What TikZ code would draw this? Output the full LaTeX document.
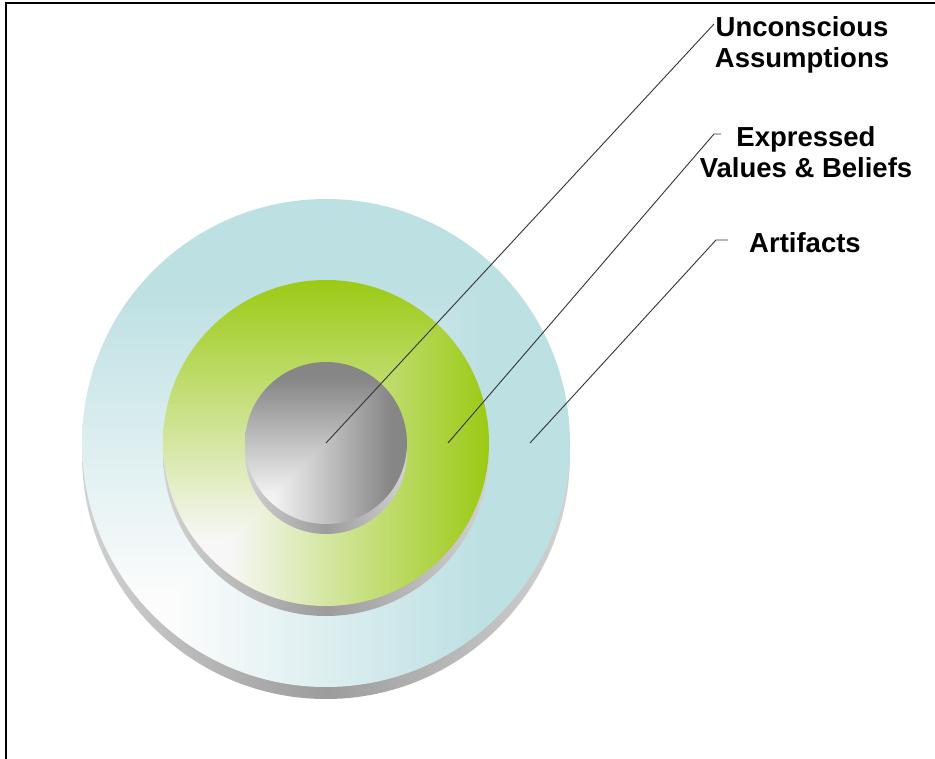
\documentclass[tikz,border=0pt]{standalone}
\usepackage{fontspec}
\setmainfont{Liberation Sans}
\usetikzlibrary{positioning}

\definecolor{rimlight}{RGB}{210,210,210}
\definecolor{rimdark}{RGB}{156,156,156}

% corner gradient: pale at lower left, full colour towards top and right
\newcommand\cornershading[7]{%
  \pgfdeclarefunctionalshading{#1}{\pgfpoint{0bp}{0bp}}{\pgfpoint{100bp}{100bp}}{}{%
    2 copy lt {exch} if pop #6 sub #7 div
    dup 0 lt {pop 0} if dup 1 gt {pop 1} if
    dup #3 mul #2 exch sub exch
    dup #4 mul #2 exch sub exch
    #5 mul #2 exch sub}}
\cornershading{artifactshade}{0.99}{0.249}{0.112}{0.100}{34}{32}
\cornershading{valueshade}{0.97}{0.362}{0.178}{0.892}{35}{40}
\cornershading{coreshade}{0.95}{0.425}{0.425}{0.425}{34}{36}

\begin{document}
\begin{tikzpicture}[
    x=1pt, y=-1pt,
    tag/.style={
      font=\bfseries\fontsize{27.5}{31}\selectfont,
      align=center, inner sep=0pt
    },
    leader/.style={draw=black!80, line width=0.9pt},
    rim/.style={left color=rimlight, right color=rimlight, middle color=rimdark},
    frame/.style={line width=2pt}
  ]
  \useasboundingbox (0,0) rectangle (935,759);

  % ===== Frame =====
  \draw[frame] (5.5,759) -- (5.5,3.5) -- (935,3.5);

  % ===== Discs =====
  \coordinate (ctr) at (326,443);
  \shade[rim] ([yshift=-12pt]ctr) circle[radius=244];
  \shade[shading=artifactshade] (ctr) circle[radius=244];
  \shade[rim] ([yshift=-10pt]ctr) circle[radius=163];
  \shade[shading=valueshade] (ctr) circle[radius=163];
  \shade[rim] ([yshift=-10pt]ctr) circle[radius=81];
  \shade[shading=coreshade] (ctr) circle[radius=81];

  % ===== Labels =====
  \node[tag] (unconscious) at (802,45)  {Unconscious\\Assumptions};
  \node[tag] (expressed)   at (806,152) {Expressed\\Values \& Beliefs};
  \node[tag] (artifacts)   at (805,243) {Artifacts};

  % Connectors
  \coordinate (coredot)     at (326,443);
  \coordinate (valuedot)    at (448,443);
  \coordinate (artifactdot) at (530,443);
  \coordinate (unconsciousend) at (714,24);
  \coordinate (expressedknee)  at (714,134);
  \coordinate (expressedend)   at (721,134);
  \coordinate (artifactknee)   at (716,240);
  \coordinate (artifactend)    at (728,240);

  \draw[leader] (coredot) -- (unconsciousend);
  \draw[leader] (valuedot) -- (expressedknee) -- (expressedend);
  \draw[leader] (artifactdot) -- (artifactknee) -- (artifactend);
\end{tikzpicture}
\end{document}
